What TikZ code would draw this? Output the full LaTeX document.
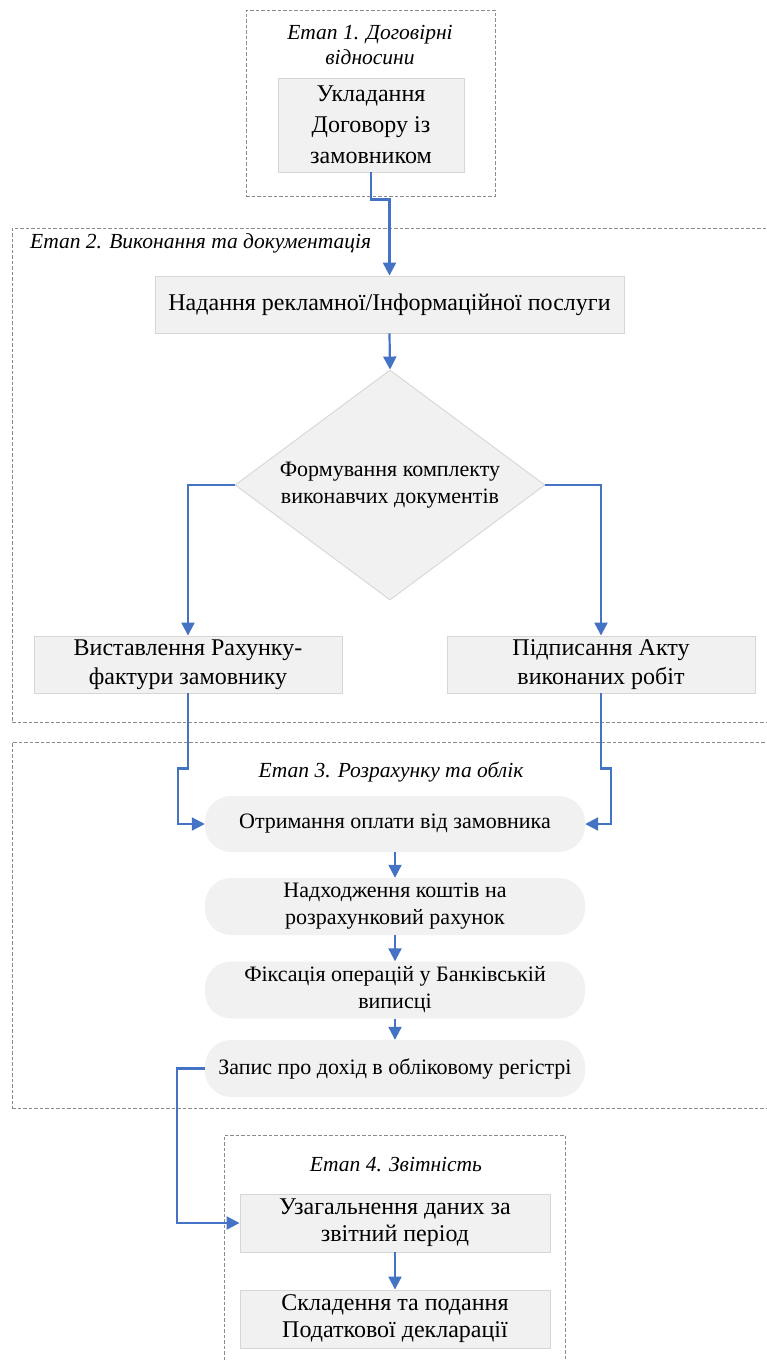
\documentclass[tikz,border=0pt]{standalone}
\usepackage{fontspec}
\setmainfont{Liberation Serif}
\usetikzlibrary{shapes.geometric,arrows.meta}
\definecolor{arrowblue}{HTML}{4472C4}
\definecolor{boxfill}{HTML}{F1F1F1}
\definecolor{boxline}{HTML}{D6D6D6}
\definecolor{dashgray}{HTML}{8C8C8C}
\begin{document}
\begin{tikzpicture}[x=1pt,y=-1pt,
  stagebox/.style={draw=dashgray, dash pattern=on 3.5pt off 2pt, line width=0.9pt, inner sep=0pt},
  stagetitle/.style={font=\fontsize{21.5}{25}\selectfont\itshape, align=center, inner sep=0pt},
  procbox/.style={draw=boxline, fill=boxfill, line width=0.9pt, align=center, inner sep=0pt, font=\fontsize{24}{31}\selectfont},
  pill/.style={fill=boxfill, rounded corners=26pt, align=center, inner sep=0pt, minimum width=380pt, font=\fontsize{22}{27}\selectfont},
  decision/.style={diamond, fill=boxfill, draw=boxline, line width=0.9pt, aspect=1.35, inner sep=0pt, minimum width=310pt, minimum height=230pt, align=center, font=\fontsize{22}{27}\selectfont},
  arr/.style={draw=arrowblue, line width=2.2pt, -{Triangle[length=13pt,width=13pt]}}
]
\useasboundingbox (0,0) rectangle (766,1360);

% stage frames
\node[stagebox, minimum width=249pt, minimum height=186pt] (st1) at (370.5,103) {};
\node[stagebox, minimum width=768pt, minimum height=494pt] (st2) at (396,475) {};
\node[stagebox, minimum width=768pt, minimum height=366pt] (st3) at (396,925) {};
\node[stagebox, minimum width=341pt, minimum height=235pt] (st4) at (394.5,1252.5) {};

% stage titles
\node[stagetitle] (t1) at (370,45) {Етап 1. Договірні\\відносини};
\node[stagetitle, anchor=west] (t2) at (30,243) {Етап 2. Виконання та документація};
\node[stagetitle] (t3) at (391,772) {Етап 3. Розрахунку та облік};
\node[stagetitle] (t4) at (396,1165) {Етап 4. Звітність};

% stage 1
\node[procbox, minimum width=186pt, minimum height=94pt] (b1) at (371,125) {Укладання\\Договору із\\замовником};

% stage 2
\node[procbox, minimum width=469pt, minimum height=57pt] (b2) at (389.5,304.5) {Надання рекламної/Інформаційної послуги};
\node[decision] (dia) at (390,485) {Формування комплекту\\виконавчих документів};
\node[procbox, minimum width=308pt, minimum height=57pt, font=\fontsize{24}{29}\selectfont] (bl) at (188,664.5) {Виставлення Рахунку-\\фактури замовнику};
\node[procbox, minimum width=308pt, minimum height=57pt, font=\fontsize{24}{29}\selectfont] (br) at (601,664.5) {Підписання Акту\\виконаних робіт};

% stage 3
\node[pill, minimum height=56pt] (n1) at (395,824) {Отримання оплати від замовника};
\node[pill, minimum height=57pt] (n2) at (395,906.5) {Надходження коштів на\\розрахунковий рахунок};
\node[pill, minimum height=57pt] (n3) at (395,990) {Фіксація операцій у Банківській\\виписці};
\node[pill, minimum height=57pt] (n4) at (395,1068.5) {Запис про дохід в обліковому регістрі};

% stage 4
\node[procbox, minimum width=310pt, minimum height=58pt, font=\fontsize{24}{27}\selectfont] (s4a) at (395,1223) {Узагальнення даних за\\звітний період};
\node[procbox, minimum width=310pt, minimum height=58pt, font=\fontsize{24}{27}\selectfont] (s4b) at (395,1319) {Складення та подання\\Податкової декларації};

% connectors
\draw[arr] (b1.south) -- ++(0,27) -| (b2.north);
\draw[arr] (b2.south) -- (dia.north);
\draw[arr] (dia.west) -| (bl.north);
\draw[arr] (dia.east) -| (br.north);
\draw[arr] (bl.south) -- ++(0,75) -- ++(-10,0) |- (n1.west);
\draw[arr] (br.south) -- ++(0,75) -- ++(10,0) |- (n1.east);
\draw[arr] (n1.south) -- (n2.north);
\draw[arr] (n2.south) -- (n3.north);
\draw[arr] (n3.south) -- (n4.north);
\draw[arr] (n4.west) -- ++(-28,0) |- (s4a.west);
\draw[arr] (s4a.south) -- (s4b.north);
\end{tikzpicture}
\end{document}
